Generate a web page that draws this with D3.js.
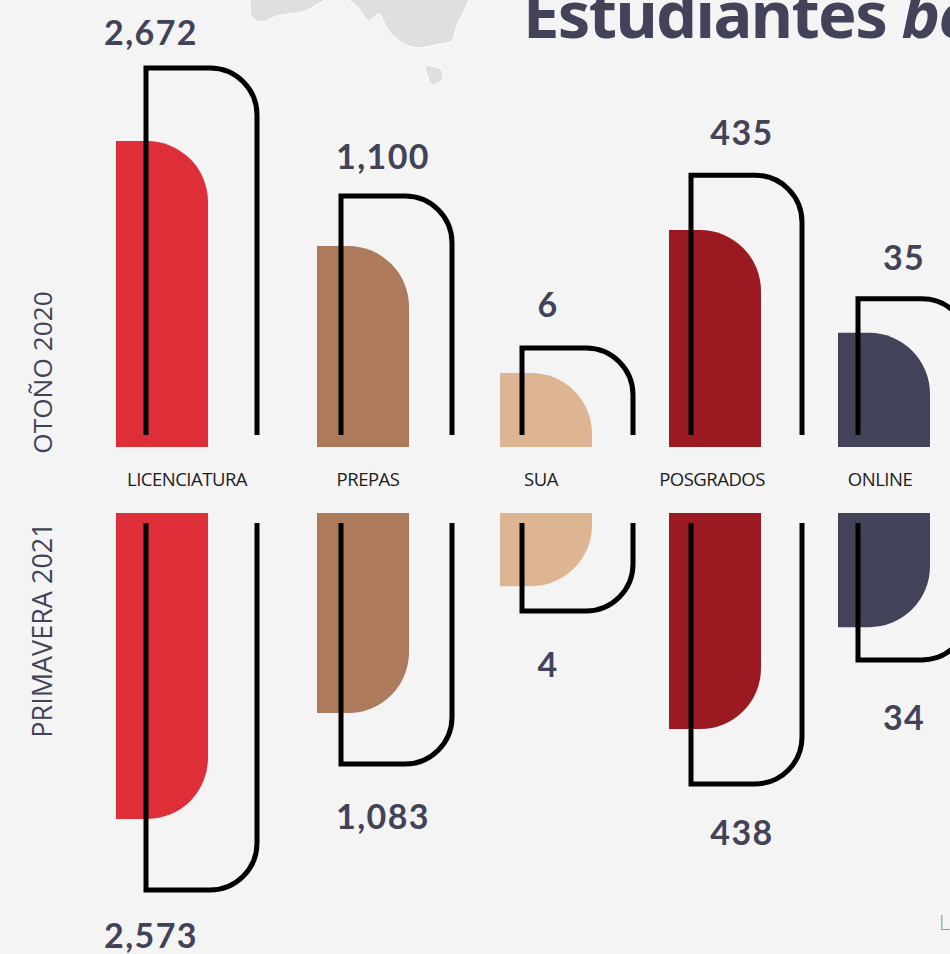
<!DOCTYPE html>
<html>
<head>
<meta charset="utf-8">
<script src="https://cdn.jsdelivr.net/npm/d3@7"></script>
<style>
html, body { margin: 0; padding: 0; background: #f4f4f4; overflow: hidden; }
</style>
</head>
<body>
<div id="chart"></div>
<script>
var width = 950;
var height = 954;

var categories = ['LICENCIATURA', 'PREPAS', 'SUA', 'POSGRADOS', 'ONLINE'];
var colors = ['#de2f38', '#ad7a5b', '#deb592', '#9b1a21', '#424259'];

// students as printed on the chart
var labelsOtono = [2672, 1100, 6, 435, 35];
var labelsPrimavera = [2573, 1083, 4, 438, 34];

// drawn lengths are not proportional to the printed numbers, so read as % of the longest
var fillOtono = [100, 65.7, 24.2, 70.9, 37.3];
var fillPrimavera = [100, 65.4, 23.9, 70.6, 37.3];
var lineOtono = [100, 65.1, 23.7, 70.8, 37.1];
var linePrimavera = [100, 65.7, 24, 71.1, 37.3];

// the columns are hand placed in the original, not evenly spaced
var x = d3.scaleOrdinal().domain(categories).range([116, 317, 500, 669, 838]);
var xLine = d3.scaleOrdinal().domain(categories).range([146, 341, 522, 691, 858]);
var xLabel = d3.scaleOrdinal().domain(categories).range([151, 383, 548, 742, 904]);
var xCat = d3.scaleOrdinal().domain(categories).range([187, 368, 541, 712, 880]);
var labelGapTop = d3.scaleOrdinal().domain(categories).range([23, 27, 31, 30, 29]);
var labelGapBottom = d3.scaleOrdinal().domain(categories).range([58, 65, 66, 61, 70]);

var fillLen = d3.scaleLinear().domain([0, 100]).range([0, 306]);
var lineLen = d3.scaleLinear().domain([0, 100]).range([0, 367]);

var axisTop = 447, axisBottom = 513;
var barW = 92, barR = 61;
var lineW = 111, lineR = 47;
var fmt = d3.format(',');

var svg = d3.select('#chart').append('svg')
    .attr('width', width)
    .attr('height', height)
    .style('display', 'block');

svg.append('rect').attr('width', width).attr('height', height).attr('fill', '#f4f4f4');

// map corner behind the title
svg.append('path')
    .attr('d', 'M250,-10 L250,13 Q252,20 260,22 Q267,22 272,18 Q280,14 298,13 Q305,12 315,6 L328,-2 L344,-2 Q356,3 362,13 Q367,22 371,20 L377,14 Q380,12 382,18 Q388,33 398,40 Q408,48 420,48 L447,43 Q453,42 454,36 Q456,25 462,15 L470,-2 L470,-10 Z')
    .attr('fill', '#dfdfe1').attr('stroke', '#fff').attr('stroke-width', 1);
svg.append('path')
    .attr('d', 'M427,65 L440,68 Q444,72 443,77 Q441,83 433,85 Q430,85 429,81 L425,68 Q425,65 427,65 Z')
    .attr('fill', '#dfdfe1').attr('stroke', '#fff').attr('stroke-width', 1);

var title = svg.append('text')
    .attr('x', 523).attr('y', 38)
    .attr('fill', '#424259')
    .style('font-family', '"Noto Sans"')
    .style('font-weight', 700)
    .style('font-size', '65px')
    .style('letter-spacing', '-1.6px');
title.append('tspan').text('Estudiantes ');
title.append('tspan').style('font-style', 'italic').text('becados');

function barPath(w, h, r, dir) {
    // corner radius shrinks only when the bar is too short for it
    var ry = Math.min(r, h);
    return 'M0,0L0,' + (dir * h) +
        'L' + (w - r) + ',' + (dir * h) +
        'A' + r + ',' + ry + ' 0 0 ' + (dir < 0 ? 1 : 0) + ' ' + w + ',' + (dir * (h - ry)) +
        'L' + w + ',0Z';
}

function linePath(w, h, r, dir) {
    return 'M0,0L0,' + (dir * h) +
        'L' + (w - r) + ',' + (dir * h) +
        'A' + r + ',' + r + ' 0 0 ' + (dir < 0 ? 1 : 0) + ' ' + w + ',' + (dir * (h - r)) +
        'L' + w + ',0';
}

function drawSide(base, dir, lineBase, fills, lines, labels, labelGap) {
    var g = svg.append('g');

    g.selectAll('.bar')
        .data(categories)
        .enter()
        .append('path')
        .attr('class', 'bar')
        .attr('transform', (d) => `translate(${x(d)},${base})`)
        .attr('fill', (d, i) => colors[i])
        .attr('d', (d, i) => barPath(barW, fillLen(fills[i]), barR, dir));

    g.selectAll('.outline')
        .data(categories)
        .enter()
        .append('path')
        .attr('class', 'outline')
        .attr('transform', (d) => `translate(${xLine(d)},${lineBase})`)
        .attr('fill', 'none')
        .attr('stroke', '#000')
        .attr('stroke-width', 5)
        .attr('d', (d, i) => linePath(lineW, lineLen(lines[i]), lineR, dir));

    g.selectAll('.value')
        .data(categories)
        .enter()
        .append('text')
        .attr('class', 'value')
        .attr('x', (d) => xLabel(d))
        .attr('y', (d, i) => lineBase + dir * lineLen(lines[i]) + (dir < 0 ? -labelGap(d) : labelGap(d)))
        .attr('text-anchor', 'middle')
        .attr('fill', '#424259')
        .style('font-family', 'Lato')
        .style('font-weight', 700)
        .style('font-size', '34px')
        .style('letter-spacing', '1.4px')
        .text((d, i) => fmt(labels[i]));
}

drawSide(axisTop, -1, 435, fillOtono, lineOtono, labelsOtono, labelGapTop);
drawSide(axisBottom, 1, 523, fillPrimavera, linePrimavera, labelsPrimavera, labelGapBottom);

svg.selectAll('.cat')
    .data(categories)
    .enter()
    .append('text')
    .attr('class', 'cat')
    .attr('x', (d) => xCat(d))
    .attr('y', 486)
    .attr('text-anchor', 'middle')
    .attr('fill', '#1c1c1c')
    .style('font-family', '"Open Sans"')
    .style('font-size', '18.5px')
    .style('letter-spacing', '-0.5px')
    .text((d) => d);

[['OTOÑO 2020', 372.5, '26.3px'], ['PRIMAVERA 2021', 630, '27px']].forEach((d) => {
    svg.append('text')
        .attr('transform', `translate(52,${d[1]}) rotate(-90)`)
        .attr('text-anchor', 'middle')
        .attr('fill', '#424259')
        .style('font-family', '"Open Sans"')
        .style('font-size', d[2])
        .text(d[0]);
});

svg.append('text')
    .attr('x', 939).attr('y', 930)
    .attr('fill', '#999')
    .style('font-family', 'Lato')
    .style('font-weight', 300)
    .style('font-size', '21px')
    .text('L');
</script>
</body>
</html>
